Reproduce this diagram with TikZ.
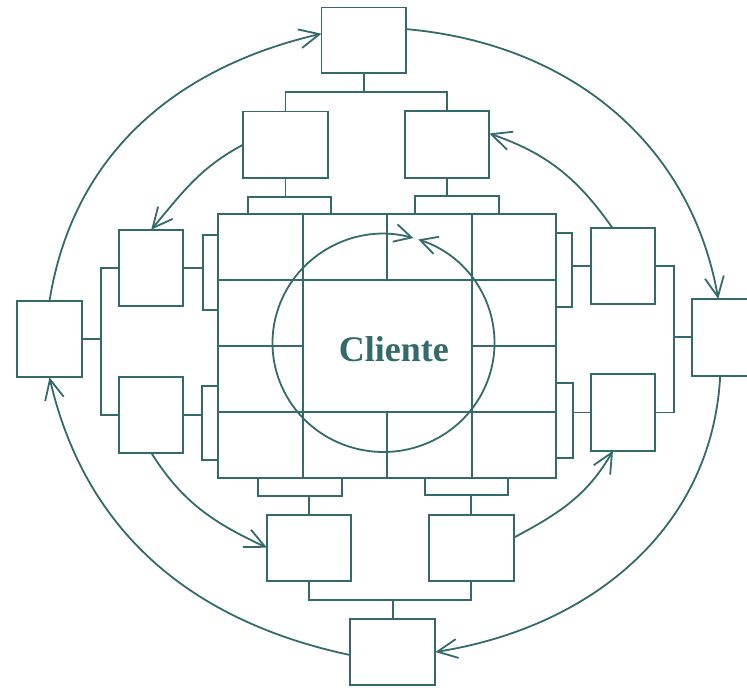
\documentclass[tikz,border=0pt]{standalone}
\usepackage{fontspec}
\setmainfont{Liberation Serif}
\usetikzlibrary{arrows.meta,calc}
\definecolor{diagteal}{RGB}{52,106,106}
\begin{document}
\begin{tikzpicture}[x=1pt,y=1pt,line width=1.8pt,color=diagteal,
  box/.style={draw,rectangle,inner sep=0pt,outer sep=0pt},
  bx/.style 2 args={box,minimum width=#1pt,minimum height=#2pt},
  cellbox/.style={box,minimum width=84.4pt,minimum height=66pt},
  flowarrow/.style={-{Straight Barb[length=20pt,width=19pt]}},
  cyclearrow/.style={{Straight Barb[length=17pt,width=18pt]}-{Straight Barb[length=17pt,width=18pt]}}]
\useasboundingbox (0,0) rectangle (747,-688);
% outer and middle boxes
\node[bx={84.5}{65.5}] (T) at (363.75,-40.25) {};
\node[bx={84.4}{66.2}] (UL) at (285.5,-144.6) {};
\node[bx={84}{66.4}] (UR) at (447.3,-144.5) {};
\node[bx={64.3}{76}] (ML1) at (151.2,-267.7) {};
\node[bx={64.3}{76}] (ML2) at (151.2,-414.7) {};
\node[bx={65.6}{76.3}] (L) at (49.5,-339.2) {};
\node[bx={64.6}{76.3}] (MR1) at (623,-266.2) {};
\node[bx={64.6}{76.7}] (MR2) at (623,-412.4) {};
\node[bx={65.6}{76.7}] (R) at (724.8,-337.3) {};
\node[bx={84}{66}] (BL) at (309,-547.7) {};
\node[bx={84.7}{66}] (BR) at (471.3,-547.7) {};
\node[bx={85.3}{66}] (B) at (392.7,-652) {};
% grid cells
\node[cellbox] (c11) at (260.5,-247.3) {};
\node[cellbox] (c12) at (344.9,-247.3) {};
\node[cellbox] (c13) at (429.3,-247.3) {};
\node[cellbox] (c14) at (513.8,-247.3) {};
\node[cellbox] (c21) at (260.5,-313.3) {};
\node[cellbox] (c31) at (260.5,-379.3) {};
\node[cellbox] (c24) at (513.8,-313.3) {};
\node[cellbox] (c34) at (513.8,-379.3) {};
\node[cellbox] (c41) at (260.5,-445.3) {};
\node[cellbox] (c42) at (344.9,-445.3) {};
\node[cellbox] (c43) at (429.3,-445.3) {};
\node[cellbox] (c44) at (513.8,-445.3) {};
\node[bx={168.8}{132}] (center) at (387.1,-346.3) {};
% circle with arrows
\draw[cyclearrow] (418.35,-239.5) arc[start angle=71.7,end angle=-285.6,x radius=111pt,y radius=109pt];
\node[font=\bfseries\fontsize{36}{40}\selectfont] (clientelabel) at (393.8,-349.4) {Cliente};
% brackets on the grid
\draw (248.3,-214.3) |- (331,-197) -- (331,-214.3);
\draw (UL.south) -- (UL.south |- 0,-197);
\draw (415,-214.3) |- (498.7,-196) -- (498.7,-214.3);
\draw (UR.south) -- (UR.south |- 0,-196);
\draw (218.3,-235) -| (202.7,-309.7) -- (218.3,-309.7);
\draw (ML1.east) -- (ML1.east -| 202.7,0);
\draw (218.3,-385.7) -| (201.7,-460.3) -- (218.3,-460.3);
\draw (ML2.east) -- (ML2.east -| 201.7,0);
\draw (556,-232.7) -| (572,-307.3) -- (556,-307.3);
\draw (MR1.west) -- (MR1.west -| 572,0);
\draw (556,-383.3) -| (573,-458.3) -- (556,-458.3);
\draw (MR2.west) -- (MR2.west -| 573,0);
\draw (258.3,-478.3) |- (341.7,-496) -- (341.7,-478.3);
\draw (BL.north) -- (BL.north |- 0,-496);
\draw (425.3,-478.3) |- (508.3,-495) -- (508.3,-478.3);
\draw (BR.north) -- (BR.north |- 0,-495);
% trees
\draw (T.south) -- (T.south |- 0,-92);
\draw (UL.north) |- (UR.north |- 0,-92) -- (UR.north);
\draw (L.east) -- (L.east -| 100.7,0);
\draw (ML1.west) -| (100.7,-340) |- (ML2.west);
\draw (R.west) -- (R.west -| 673.7,0);
\draw (MR1.east) -| (673.7,-337) |- (MR2.east);
\draw (B.north) -- (B.north |- 0,-599.7);
\draw (BL.south) |- (BR.south |- 0,-599.7) -- (BR.south);
% arrows
\draw[flowarrow] (L.north) to[out=81,in=193] ($(T.north west)!0.4!(T.south west)$);
\draw[flowarrow] ($(T.north east)!0.33!(T.south east)$) to[out=-5,in=100] ($(R.north west)!0.4!(R.north east)$);
\draw[flowarrow] ($(R.south west)!0.43!(R.south east)$) to[out=-93,in=9] (B.east);
\draw[flowarrow] ($(B.west)+(0,-3)$) to[out=168,in=-77] (L.south);
\draw[flowarrow] (UL.west) to[out=208,in=50] (ML1.north);
\draw[flowarrow] (ML2.south) to[out=-58,in=155] (BL.west);
\draw[flowarrow] ($(BR.east)+(0,10)$) to[out=28,in=240] ($(MR2.south)+(-10,0)$);
\draw[flowarrow] ($(MR1.north)+(-10.5,0)$) to[out=125,in=-19] ($(UR.east)+(0,11)$);
\end{tikzpicture}
\end{document}
